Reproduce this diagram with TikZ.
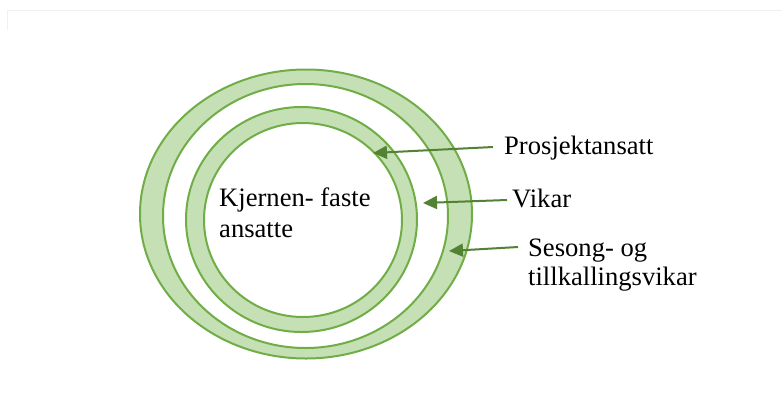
\documentclass[tikz,border=0pt]{standalone}
\usepackage{fontspec}
\setmainfont{Liberation Serif}
\usetikzlibrary{arrows.meta}
\definecolor{ringfill}{HTML}{C5E0B4}
\definecolor{ringedge}{HTML}{70AD47}
\definecolor{arrowgreen}{HTML}{548235}
\tikzset{
  ring/.style={fill=ringfill, draw=ringedge, line width=2pt, even odd rule},
  label/.style={anchor=base west, inner sep=0pt, font=\fontsize{26.6}{30}\selectfont, text=black},
  pointer/.style={draw=arrowgreen, line width=2pt, -{Triangle[length=14pt,width=13pt]}},
}
\begin{document}
\begin{tikzpicture}[x=1pt, y=-1pt]
  \useasboundingbox (0,0) rectangle (782,392);
  \fill[white] (0,0) rectangle (782,392);
  % faint page frame
  \draw[black!6, line width=0.8pt] (7,30) -- (7,10) -- (782,10);

  % outer ring
  \path[ring] (306,214) ellipse [x radius=166, y radius=144.5]
              (305.5,216) ellipse [x radius=142.5, y radius=132];
  % middle ring
  \path[ring] (301.5,219.5) ellipse [x radius=115.5, y radius=112.5]
              (303,220) ellipse [x radius=99, y radius=97];

  % labels
  \node[label] (core) at (219,206) {Kjernen- faste};
  \node[label] (core2) at (219,237) {ansatte};
  \node[label] (prosj) at (504,154) {Prosjektansatt};
  \node[label] (vikar) at (512,207) {Vikar};
  \node[label] (sesong) at (528,256) {Sesong- og};
  \node[label] (tillk) at (528,285) {tillkallingsvikar};

  % arrow tips on the rings
  \coordinate (tipP) at (373,153);
  \coordinate (tipV) at (423,203);
  \coordinate (tipS) at (449,251);
  \coordinate (startP) at (493,147);
  \coordinate (startV) at (507,200);
  \coordinate (startS) at (518,247);

  \draw[pointer] (startP) -- (tipP);
  \draw[pointer] (startV) -- (tipV);
  \draw[pointer] (startS) -- (tipS);
\end{tikzpicture}
\end{document}
